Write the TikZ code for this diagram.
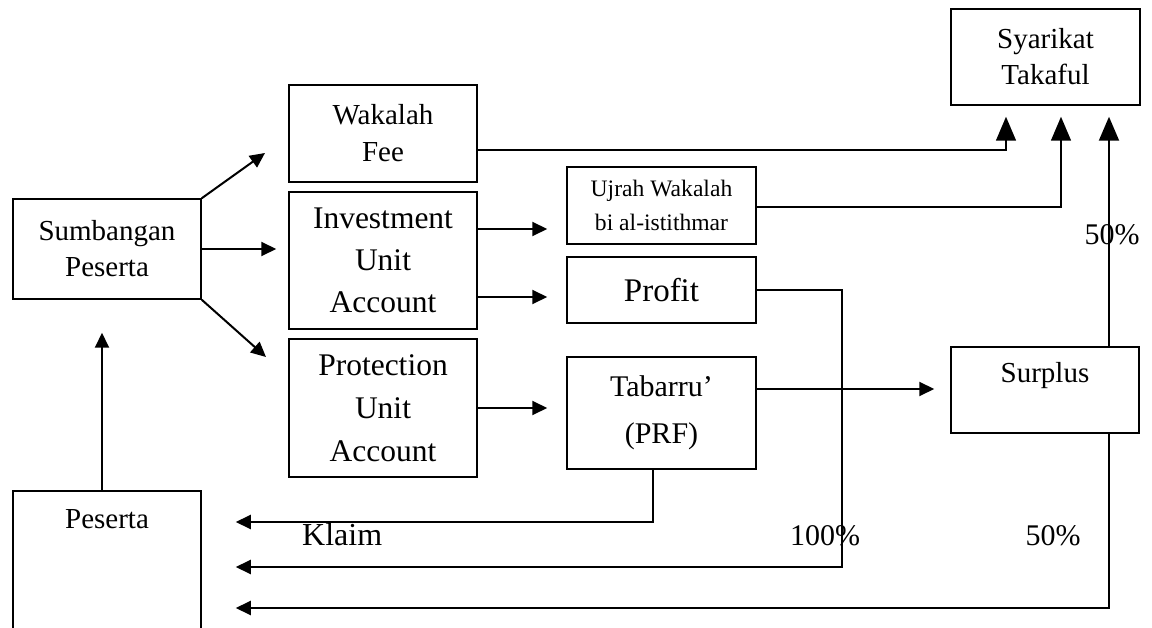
\documentclass[tikz,border=0pt]{standalone}
\usepackage{fontspec}
\setmainfont{Liberation Serif}
\usetikzlibrary{arrows.meta}
\begin{document}
\begin{tikzpicture}[x=1pt,y=-1pt,
  box/.style={draw, line width=1.5pt, inner sep=0pt, align=center},
  txt/.style={inner sep=0pt, anchor=base},
  arr/.style={line width=2pt, -{Triangle[length=15pt,width=14pt]}},
  bigarr/.style={line width=2pt, -{Triangle[length=24pt,width=20pt]}},
  wire/.style={line width=1.5pt},
  fs/.style 2 args={font=\fontsize{#1}{#2}\selectfont}]
\useasboundingbox (0,0) rectangle (1152,628);

% boxes
\node[box, fs={29}{36}, minimum width=188pt, minimum height=100pt] (sp) at (107,249) {Sumbangan\\Peserta};
\node[box, fs={29}{37}, minimum width=188pt, minimum height=97pt] (wf) at (383,133.5) {Wakalah\\Fee};
\node[box, fs={31.5}{42}, minimum width=188pt, minimum height=137pt] (inv) at (383,260.5) {Investment\\Unit\\Account};
\node[box, fs={31.5}{43}, minimum width=188pt, minimum height=138pt] (prot) at (383,408) {Protection\\Unit\\Account};
\node[box, fs={23.6}{34}, minimum width=189pt, minimum height=77pt] (uj) at (661.5,205.5) {Ujrah Wakalah\\bi al-istithmar};
\node[box, fs={33}{40}, minimum width=189pt, minimum height=66pt] (prof) at (661.5,290) {Profit};
\node[box, fs={30}{47}, minimum width=189pt, minimum height=112pt] (tab) at (661.5,413) {Tabarru’\\(PRF)};
\node[box, fs={29}{36}, minimum width=189pt, minimum height=96pt] (st) at (1045.5,57) {Syarikat\\Takaful};
\node[box, minimum width=188pt, minimum height=86pt] (sur) at (1045,390) {};
\node[txt, fs={29}{36}] (surt) at (1045,383) {Surplus};
\node[box, minimum width=188pt, minimum height=149pt] (pes) at (107,565.5) {};
\node[txt, fs={29}{36}] (pest) at (107,528) {Peserta};

% labels
\node[txt, fs={32}{38}, anchor=base west] (klaim) at (302,545) {Klaim};
\node[txt, fs={30}{36}] (p100) at (825,545) {100\%};
\node[txt, fs={30}{36}] (p50b) at (1053,545) {50\%};
\node[txt, fs={30}{36}] (p50a) at (1112,245) {50\%};

% contributions split
\coordinate (dup) at (265,153);
\coordinate (ddn) at (266,357);
\draw[arr] (sp.north east) -- (dup);
\draw[arr] (sp.south east) -- (ddn);
\draw[arr, shorten >=12pt] (sp.east) -- (sp.east -| inv.west);
\draw[arr, shorten >=33pt] ([xshift=-5pt]pes.north) -- ([xshift=-5pt]sp.south);

% account flows
\draw[arr, shorten >=19pt] ([yshift=31.5pt]inv.east) -- ([yshift=31.5pt]inv.east -| uj.west);
\draw[arr, shorten >=19pt] ([yshift=-36.5pt]inv.east) -- ([yshift=-36.5pt]inv.east -| prof.west);
\draw[arr, shorten >=19pt] (prot.east) -- (prot.east -| tab.west);
\draw[arr, shorten >=16pt] ([yshift=24pt]tab.east) -- ([yshift=24pt]tab.east -| sur.west);

% to the operator
\draw[bigarr, wire, shorten >=11pt] ([yshift=-16.5pt]wf.east) -| ([xshift=-39.5pt]st.south);
\draw[bigarr, wire, shorten >=11pt] ([yshift=-1.5pt]uj.east) -| ([xshift=15.5pt]st.south);
\draw[bigarr, shorten >=11pt] ([xshift=64pt]sur.north) -- ([xshift=64pt]sur.north |- st.south);

% back to participants
\coordinate (pc) at (842,567);
\draw[arr, shorten >=34pt] ([xshift=-8.5pt]tab.south) |- (pes.east |- 0,522);
\draw[arr, shorten >=34pt] (prof.east) -| (pc) -- (pes.east |- pc);
\draw[arr, shorten >=34pt] ([xshift=64pt]sur.south) |- (pes.east |- 0,608);
\end{tikzpicture}
\end{document}
